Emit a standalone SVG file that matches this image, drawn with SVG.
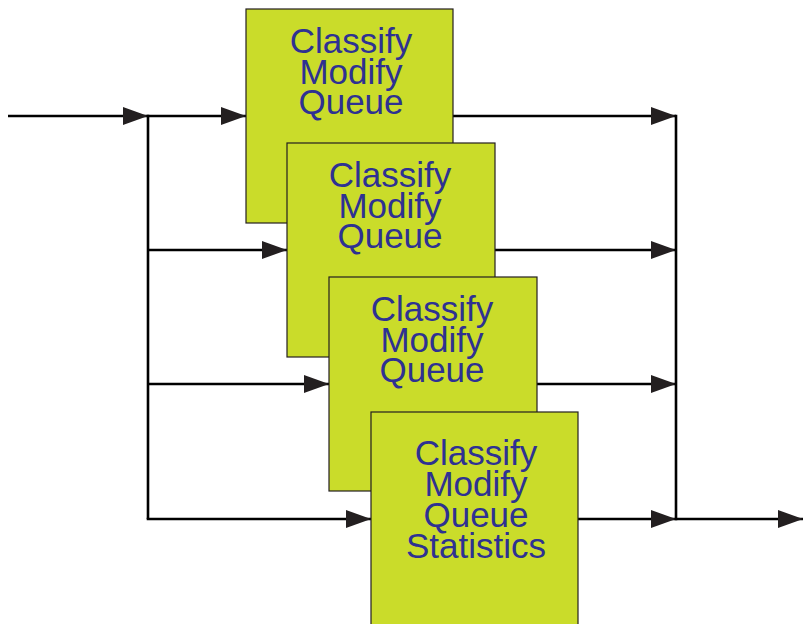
<svg xmlns="http://www.w3.org/2000/svg" width="803" height="624" viewBox="0 0 803 624">
<style>
.box{fill:#cadc2a;stroke:#231f20;stroke-width:1.2}
.lbl{font-family:"Liberation Sans",Arial,sans-serif;font-size:35px;fill:#2e3192;text-anchor:middle}
.ln{stroke:#000;stroke-width:2.6;fill:none}
</style>
<defs>
<marker id="ah" viewBox="0 0 25 18" refX="25" refY="9" markerWidth="25" markerHeight="18" markerUnits="userSpaceOnUse" orient="auto">
<path d="M0,0 L25,9 L0,18 z" fill="#231f20"/>
</marker>
</defs>
<rect width="803" height="624" fill="#fff"/>
<g id="connectors">
<line class="ln" x1="8" y1="116" x2="148" y2="116" marker-end="url(#ah)"/>
<line class="ln" x1="148" y1="114.7" x2="148" y2="519"/>
<line class="ln" x1="148" y1="116" x2="246" y2="116" marker-end="url(#ah)"/>
<line class="ln" x1="148" y1="250" x2="287" y2="250" marker-end="url(#ah)"/>
<line class="ln" x1="148" y1="384" x2="329" y2="384" marker-end="url(#ah)"/>
<line class="ln" x1="146.7" y1="519" x2="371" y2="519" marker-end="url(#ah)"/>
<line class="ln" x1="453" y1="116" x2="676" y2="116" marker-end="url(#ah)"/>
<line class="ln" x1="495" y1="250" x2="676" y2="250" marker-end="url(#ah)"/>
<line class="ln" x1="537" y1="384" x2="676" y2="384" marker-end="url(#ah)"/>
<line class="ln" x1="578" y1="519" x2="676" y2="519" marker-end="url(#ah)"/>
<line class="ln" x1="676" y1="114.7" x2="676" y2="520.3"/>
<line class="ln" x1="676" y1="519" x2="803" y2="519" marker-end="url(#ah)"/>
</g>
<g id="node1">
<rect class="box" x="246" y="9" width="207" height="214"/>
<text class="lbl"><tspan x="351" y="53">Classify</tspan><tspan x="351" y="83.5">Modify</tspan><tspan x="351" y="114">Queue</tspan></text>
</g>
<g id="node2">
<rect class="box" x="287" y="143" width="208" height="214"/>
<text class="lbl"><tspan x="390" y="187">Classify</tspan><tspan x="390" y="217.5">Modify</tspan><tspan x="390" y="248">Queue</tspan></text>
</g>
<g id="node3">
<rect class="box" x="329" y="277" width="208" height="214"/>
<text class="lbl"><tspan x="432" y="321">Classify</tspan><tspan x="432" y="351.5">Modify</tspan><tspan x="432" y="382">Queue</tspan></text>
</g>
<g id="node4">
<rect class="box" x="371" y="412" width="207" height="220"/>
<text class="lbl"><tspan x="476" y="465">Classify</tspan><tspan x="476" y="496">Modify</tspan><tspan x="476" y="527">Queue</tspan><tspan x="476" y="558">Statistics</tspan></text>
</g>
</svg>
